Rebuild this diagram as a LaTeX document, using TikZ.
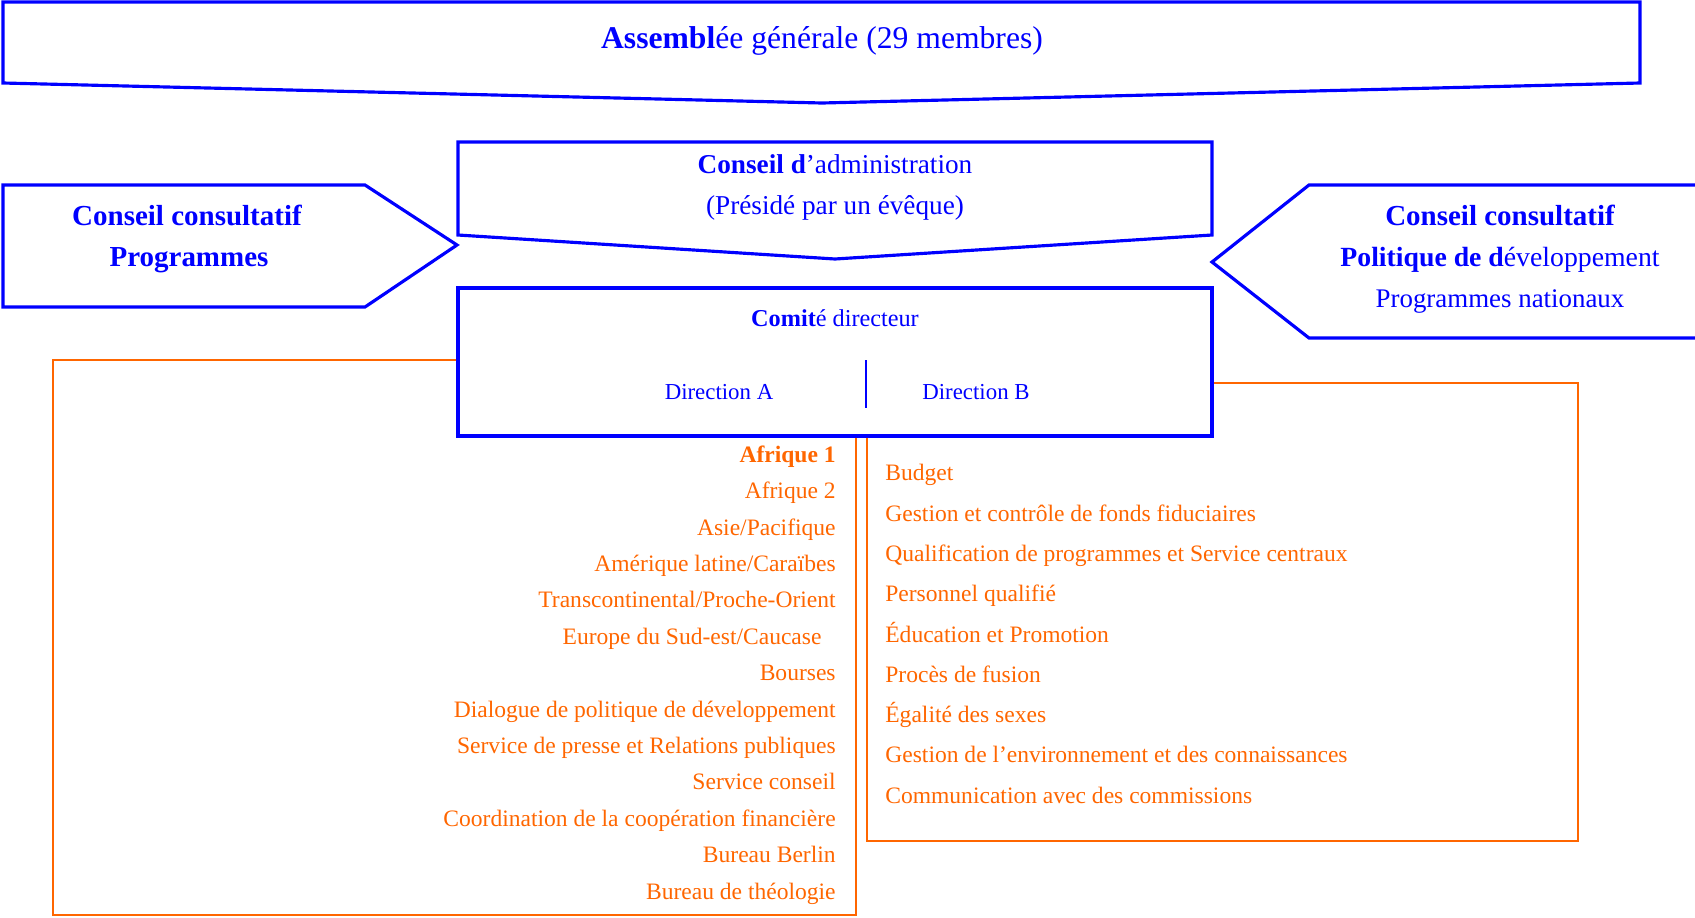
\documentclass[tikz,border=0pt]{standalone}
\usepackage{fontspec}
\setmainfont{Liberation Serif}
\usetikzlibrary{positioning}
\definecolor{cblue}{RGB}{0,0,255}
\definecolor{corange}{RGB}{255,102,0}
\tikzset{
    blueline/.style={draw=cblue,line width=1.8pt,line join=miter},
    orangeline/.style={draw=corange,line width=1.6pt},
    bluetext/.style={text=cblue,inner sep=0pt,text height=1.6ex,text depth=.4ex},
    itemA/.style={text=corange,anchor=east,inner sep=0pt,text height=1.6ex,text depth=.4ex,font=\fontsize{13.4}{16}\selectfont},
    itemB/.style={text=corange,anchor=west,inner sep=0pt,text height=1.6ex,text depth=.4ex,font=\fontsize{13.4}{16}\selectfont},
}

\begin{document}
\begin{tikzpicture}[x=0.02cm,y=-0.02cm]
\useasboundingbox (0,0) rectangle (1695,917);

% assemblee generale
\draw[blueline] (3,2) -- (1640,2) -- (1640,83) -- (822,103) -- (3,83) -- cycle;
\node[bluetext,font=\fontsize{18}{22}\selectfont] (ag) at (822,43.5) {\textbf{Assembl}ée générale (29 membres)};

% conseils
\draw[blueline] (3,185) -- (365,185) -- (457,245) -- (365,307) -- (3,307) -- cycle;
\node[bluetext,font=\fontsize{16.5}{19}\selectfont\bfseries] (ccl1) at (187,221) {Conseil consultatif};
\node[bluetext,font=\fontsize{16.5}{19}\selectfont\bfseries] (ccl2) at (189,262) {Programmes};

\draw[blueline] (458,142) -- (1212,142) -- (1212,235) -- (835,259) -- (458,235) -- cycle;
\node[bluetext,font=\fontsize{15.5}{18}\selectfont] (ca1) at (835,168.5) {\textbf{Conseil d}’administration};
\node[bluetext,font=\fontsize{15.5}{18}\selectfont] (ca2) at (835,210) {(Présidé par un évêque)};

\draw[blueline] (1700,185) -- (1309,185) -- (1212,262) -- (1309,338) -- (1700,338);
\node[bluetext,font=\fontsize{16.5}{19}\selectfont\bfseries] (ccr1) at (1500,221) {Conseil consultatif};
\node[bluetext,font=\fontsize{15.8}{19}\selectfont] (ccr2) at (1500,262) {\textbf{Politique de d}éveloppement};
\node[bluetext,font=\fontsize{15.3}{18}\selectfont] (ccr3) at (1500,303) {Programmes nationaux};

% comite directeur
\node[draw=cblue,line width=1.8pt,minimum width=15.08cm,minimum height=2.96cm,inner sep=0pt] (cd) at (835,362) {};
\node[bluetext,font=\fontsize{13.8}{16}\selectfont] (cdt) at (835,321.5) {\textbf{Comit}é directeur};
\node[bluetext,font=\fontsize{13}{16}\selectfont] (dira) at (719,395) {Direction A};
\node[bluetext,font=\fontsize{13}{16}\selectfont] (dirb) at (976,395) {Direction B};
\draw[cblue,line width=1.1pt] (866,360) -- (866,408);

% directions
\draw[orangeline] (cd.west |- 0,360) -- (53,360) -- (53,915) -- (856,915) -- (cd.south -| 856,0);
\draw[orangeline] (cd.south -| 867,0) -- (867,841) -- (1578,841) -- (1578,383) -- (cd.east |- 0,383);

\foreach \t [count=\i from 0] in {{\textbf{Afrique 1}},{Afrique 2},{Asie/Pacifique},
    {Amérique latine/Caraïbes},{Transcontinental/Proche-Orient},
    {Europe du Sud-est/Caucase\hspace*{0.6em}},{Bourses},
    {Dialogue de politique de développement},
    {Service de presse et Relations publiques},{Service conseil},
    {Coordination de la coopération financière},{Bureau Berlin},
    {Bureau de théologie}}
  {
    \node[itemA] (a\i) at (836,457.5+36.4*\i) {\t};}

\foreach \t [count=\i from 0] in {{Budget},
    {Gestion et contrôle de fonds fiduciaires},
    {Qualification de programmes et Service centraux},
    {Personnel qualifié},{Éducation et Promotion},{Procès de fusion},
    {Égalité des sexes},
    {Gestion de l’environnement et des connaissances},
    {Communication avec des commissions}}
  {
    \node[itemB] (b\i) at (885,476+40.3*\i) {\t};}

\end{tikzpicture}
\end{document}
